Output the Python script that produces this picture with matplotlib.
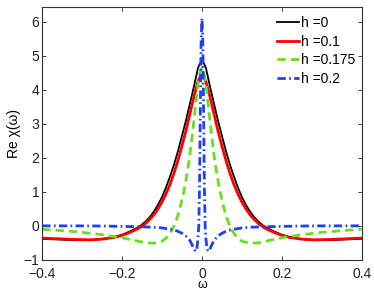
import numpy as np
import matplotlib
matplotlib.use("Agg")
import matplotlib.pyplot as plt

plt.rcParams['font.family'] = ['Liberation Sans', 'DejaVu Sans']

# right half of each curve (curves are symmetric in omega)
w_h0 = [0, 0.005, 0.01, 0.02, 0.03, 0.04, 0.05, 0.06, 0.07, 0.08, 0.09, 0.10, 0.11,
        0.12, 0.13, 0.14, 0.152, 0.16, 0.18, 0.20, 0.22, 0.25, 0.28, 0.32, 0.36, 0.40]
re_h0 = [4.82, 4.77, 4.64, 4.1, 3.6, 3.1, 2.65, 2.2, 1.8, 1.45, 1.13, 0.85, 0.62,
         0.43, 0.27, 0.14, 0.02, -0.04, -0.16, -0.26, -0.33, -0.39, -0.42, -0.42,
         -0.40, -0.38]

w_h01 = [0, 0.005, 0.01, 0.02, 0.03, 0.04, 0.05, 0.06, 0.07, 0.08, 0.09, 0.10, 0.11,
         0.12, 0.13, 0.145, 0.16, 0.18, 0.20, 0.22, 0.25, 0.28, 0.32, 0.36, 0.40]
re_h01 = [4.42, 4.37, 4.24, 3.8, 3.3, 2.8, 2.35, 1.93, 1.55, 1.22, 0.94, 0.7, 0.5,
          0.33, 0.2, 0.03, -0.08, -0.19, -0.28, -0.34, -0.39, -0.41, -0.40, -0.38, -0.36]

w_h0175 = [0, 0.005, 0.01, 0.015, 0.02, 0.025, 0.03, 0.035, 0.04, 0.045, 0.05,
           0.055, 0.06, 0.065, 0.07, 0.075, 0.08, 0.09, 0.10, 0.12, 0.14, 0.16,
           0.20, 0.25, 0.30, 0.35, 0.40]
re_h0175 = [4.64, 4.5, 4.15, 3.65, 3.1, 2.6, 2.1, 1.7, 1.35, 1.03, 0.77,
            0.53, 0.32, 0.14, 0.0, -0.12, -0.22, -0.36, -0.45, -0.51, -0.50, -0.45,
            -0.35, -0.26, -0.19, -0.14, -0.10]

w_h02 = [0, 0.002, 0.004, 0.006, 0.008, 0.01, 0.013, 0.016, 0.02, 0.025, 0.03,
         0.04, 0.05, 0.06, 0.07, 0.085, 0.10, 0.12, 0.15, 0.20, 0.25, 0.30, 0.40]
re_h02 = [6.1, 5.5, 3.5, 1.2, 0.0, -0.4, -0.68, -0.75, -0.68, -0.55, -0.43,
          -0.3, -0.22, -0.16, -0.12, -0.09, -0.06, -0.04, -0.03, -0.015, -0.005, 0.0, 0.0]


def mirror(w, v):
    w = np.array(w)
    v = np.array(v)
    return np.concatenate([-w[::-1], w[1:]]), np.concatenate([v[::-1], v[1:]])


fig = plt.figure(figsize=(3.74, 2.95), dpi=100)
ax = fig.add_axes([0.113, 0.119, 0.854, 0.857])

x, y = mirror(w_h0, re_h0)
ax.plot(x, y, color='black', lw=1.3, label='h =0')
x, y = mirror(w_h01, re_h01)
ax.plot(x, y, color='#ff0000', lw=2.0, label='h =0.1')
x, y = mirror(w_h0175, re_h0175)
ax.plot(x, y, color='#66e01a', lw=2.0, ls=(0, (3, 1.8)), label='h =0.175')
x, y = mirror(w_h02, re_h02)
ax.plot(x, y, color='#2040f0', lw=2.0, ls=(0, (3, 1.2, 0.6, 1.2)), label='h =0.2')

ax.set_xlim(-0.4, 0.4)
ax.set_ylim(-1, 6.43)
ax.set_xticks([-0.4, -0.2, 0, 0.2, 0.4])
ax.set_xticklabels(['\u22120.4', '\u22120.2', '0', '0.2', '0.4'])
ax.set_yticks(range(-1, 7))
ax.set_yticklabels(['\u22121', '0', '1', '2', '3', '4', '5', '6'])
ax.tick_params(direction='in', length=3, width=0.6, top=True, right=True,
               labelsize=10, pad=2, colors='#222222')
ax.tick_params(axis='x', pad=5)
for s in ax.spines.values():
    s.set_linewidth(0.8)
    s.set_color('#333333')

ax.set_xlabel('\u03c9', fontsize=9, labelpad=-1)
ax.set_ylabel('Re \u03c7(\u03c9)', fontsize=10, labelpad=2)

ax.legend(loc='upper right', bbox_to_anchor=(0.981, 0.965), frameon=False,
          fontsize=10, handlelength=1.6, handletextpad=0.17, labelspacing=0.33,
          borderaxespad=0, borderpad=0)

fig.savefig('out.png', dpi=100)
